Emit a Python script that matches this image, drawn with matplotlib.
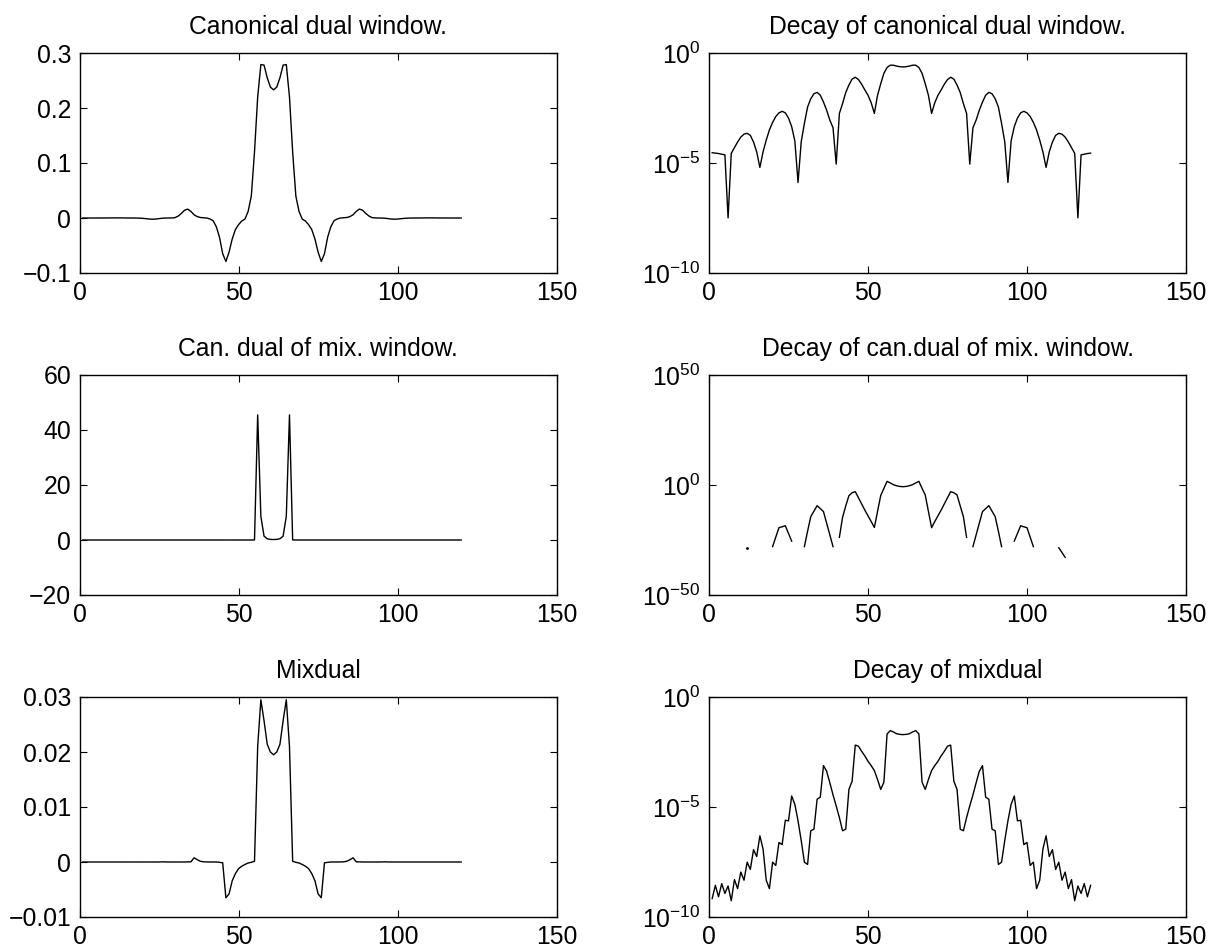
import numpy as np
import matplotlib
matplotlib.use('Agg')
import matplotlib.pyplot as plt
from matplotlib.ticker import FuncFormatter, LogFormatterMathtext, NullLocator

plt.rcParams['font.family'] = ['Liberation Sans', 'DejaVu Sans']
plt.rcParams['mathtext.fontset'] = 'custom'
plt.rcParams['mathtext.rm'] = 'Liberation Sans'
plt.rcParams['mathtext.it'] = 'Liberation Sans:italic'

# sample index 1..120
n = np.arange(1, 121)

g_can = [
    -2.95e-5, -2.8e-5, -2.7e-5, -2.5e-5, -2.35e-5, 3.2e-8, 2.75e-5, 5.0e-5, 9.0e-5, 1.5e-4,
    2.05e-4, 2.24e-4, 1.8e-4, 9.0e-5, 3.2e-5, -6.3e-6, -3.2e-5, -1.1e-4, -3.2e-4, -7.0e-4,
    -1.3e-3, -1.9e-3, -2.24e-3, -1.9e-3, -1.1e-3, -4.5e-4, -1.0e-4, 1.3e-6, 9.3e-5, 6.3e-4,
    3.5e-3, 8.3e-3, 1.41e-2, 1.62e-2, 1.2e-2, 5.9e-3, 2.5e-3, 8.9e-4, 4.0e-4, -8.9e-6,
    -1.8e-3, -5.0e-3, -1.6e-2, -3.5e-2, -6.5e-2, -7.9e-2, -6.2e-2, -3.8e-2, -2.1e-2, -1.2e-2,
    -5.5e-3, -1.8e-3, 1.2e-2, 4.0e-2, 0.12, 0.22, 0.279, 0.278, 0.255, 0.238,
    0.233, 0.238, 0.255, 0.278, 0.279, 0.22, 0.12, 4.0e-2, 1.2e-2, -1.8e-3,
    -5.5e-3, -1.2e-2, -2.1e-2, -3.8e-2, -6.2e-2, -7.9e-2, -6.5e-2, -3.5e-2, -1.6e-2, -5.0e-3,
    -1.8e-3, -8.9e-6, 4.0e-4, 8.9e-4, 2.5e-3, 5.9e-3, 1.2e-2, 1.62e-2, 1.41e-2, 8.3e-3,
    3.5e-3, 6.3e-4, 9.3e-5, 1.3e-6, -1.0e-4, -4.5e-4, -1.1e-3, -1.9e-3, -2.24e-3, -1.9e-3,
    -1.3e-3, -7.0e-4, -3.2e-4, -1.1e-4, -3.2e-5, -6.3e-6, 3.2e-5, 9.0e-5, 1.8e-4, 2.24e-4,
    2.05e-4, 1.5e-4, 9.0e-5, 5.0e-5, 2.75e-5, 3.2e-8, -2.35e-5, -2.5e-5, -2.7e-5, -2.8e-5,
]

# canonical dual of the mixed window (exact zeros show as gaps on the log panel)
g_mix = [
    0, 0, 0, 0, 0, 0, 0, 0, 0, 0,
    0, 3e-29, 0, 0, 0, 0, 0, 0, 0, 1e-28,
    2e-24, 4e-20, 1e-19, 3e-19, 1e-22, 3e-26, 0, 0, 0, 1e-28,
    1e-21, 4e-15, 1.3e-12, 4e-10, 1.8e-11, 8e-13, 4e-18, 2e-23, 1e-28, 0,
    1.6e-24, 2e-15, 3e-10, 1.4e-5, 3e-4, 9.3e-4, 1.6e-6, 2.5e-9, 4e-12, 1e-14,
    2.5e-17, 5e-20, 1e-12, 1.6e-5, 3e-2, 45.5, 8.6, 1.4, 0.45, 0.22,
    0.17, 0.22, 0.45, 1.4, 8.6, 45.5, 3e-2, 3e-5, 1e-12, 4e-20,
    2.5e-17, 1e-14, 4e-12, 2.5e-9, 1.6e-6, 9.3e-4, 3e-4, 3e-5, 3e-10, 4e-15,
    1.6e-24, 0, 1e-28, 2e-23, 4e-18, 8e-13, 1.8e-11, 4e-10, 1.3e-12, 4e-15,
    1e-21, 1e-28, 0, 0, 0, 3e-26, 1e-22, 3e-19, 1e-19, 4e-20,
    2e-24, 1e-28, 0, 0, 0, 0, 0, 0, 0, 3e-29,
    2e-31, 1.3e-33, 0, 0, 0, 0, 0, 0, 0, 0,
]

# mixdual
g_mixdual = [
    6.9e-10, 2.75e-9, 8.3e-10, 3.3e-9, 1.18e-9, 2.57e-9, 5.5e-10, 5.0e-9, 1.95e-9, 1.1e-8,
    4.7e-9, 3.1e-8, 1.45e-8, 1.15e-7, 5.6e-8, 4.9e-7, 1.23e-7, 4.7e-9, 1.95e-9, 3.1e-8,
    2.2e-8, 2.45e-7, 1.95e-7, 2.5e-6, 2.34e-6, 3.16e-5, 1.32e-5, 2.34e-6, 2.95e-7, 3.1e-8,
    2.45e-8, 8.3e-7, 9.8e-7, 2.24e-5, 2.82e-5, 7.6e-4, 4.2e-4, 1.26e-4, 3.55e-5, 1.12e-5,
    3.3e-6, 8.3e-7, -9.8e-7, -6.3e-5, -1.48e-4, -6.5e-3, -5.8e-3, -3.4e-3, -2.1e-3, -1.2e-3,
    -7.6e-4, -4.5e-4, -1.78e-4, -6.3e-5, 1.35e-4, 0.021, 0.0295, 0.0257, 0.0214, 0.0200,
    0.0195, 0.0200, 0.0214, 0.0257, 0.0295, 0.021, 1.35e-4, -6.3e-5, -1.78e-4, -4.5e-4,
    -7.6e-4, -1.2e-3, -2.1e-3, -3.4e-3, -5.8e-3, -6.5e-3, -1.48e-4, -6.3e-5, -9.8e-7, 8.3e-7,
    3.3e-6, 1.12e-5, 3.55e-5, 1.26e-4, 4.2e-4, 7.6e-4, 2.82e-5, 2.24e-5, 9.8e-7, 8.3e-7,
    2.45e-8, 3.1e-8, 2.95e-7, 2.34e-6, 1.32e-5, 3.16e-5, 2.34e-6, 2.5e-6, 1.95e-7, 2.45e-7,
    2.2e-8, 3.1e-8, 1.95e-9, 4.7e-9, 1.23e-7, 4.9e-7, 5.6e-8, 1.15e-7, 1.45e-8, 3.1e-8,
    4.7e-9, 1.1e-8, 1.95e-9, 5.0e-9, 5.5e-10, 2.57e-9, 1.18e-9, 3.3e-9, 8.3e-10, 2.75e-9,
]

titles = ['Canonical dual window.', 'Decay of canonical dual window.',
          'Can. dual of mix. window.', 'Decay of can.dual of mix. window.',
          'Mixdual', 'Decay of mixdual']
lin_yticks = [[-0.1, 0, 0.1, 0.2, 0.3], [-20, 0, 20, 40, 60], [-0.01, 0, 0.01, 0.02, 0.03]]
log_yticks = [[1e-10, 1e-5, 1e0], [1e-50, 1e0, 1e50], [1e-10, 1e-5, 1e0]]
xticks = [0, 50, 100, 150]

FS = 17.8
W, H = 1210, 950
fig = plt.figure(figsize=(W / 100, H / 100), dpi=100)

col_x = [79.6, 709.0]
col_w = 477.0
row_y = [53.0, 375.0, 697.0]
row_h = 220.0


def make_ax(r, c):
    ax = fig.add_axes([col_x[c] / W, 1 - (row_y[r] + row_h) / H, col_w / W, row_h / H])
    ax.set_xlim(0, 150)
    ax.set_xticks(xticks)
    ax.tick_params(direction='in', top=True, right=True, length=5, width=0.8,
                   labelsize=FS, pad=6)
    for s in ax.spines.values():
        s.set_linewidth(1.0)
    ax.set_title(titles[2 * r + c], fontsize=FS, pad=14)
    return ax


fmt = FuncFormatter(lambda v, p: ('%g' % v).replace('-', '\u2212'))
series = [np.array(g_can), np.array(g_mix), np.array(g_mixdual)]

for r, g in enumerate(series):
    ax = make_ax(r, 0)
    ax.plot(n, g, color='black', lw=1.0)
    ax.set_ylim(lin_yticks[r][0], lin_yticks[r][-1])
    ax.set_yticks(lin_yticks[r])
    ax.yaxis.set_major_formatter(fmt)

    ax = make_ax(r, 1)
    a = np.abs(g)
    ax.set_yscale('log', nonpositive='mask')
    ax.plot(n, np.where(a > 0, a, np.nan), color='black', lw=1.0)
    # single samples between zeros only show as a dot
    left = np.r_[0, a[:-1]]
    right = np.r_[a[1:], 0]
    iso = (a > 0) & (left == 0) & (right == 0)
    ax.plot(n[iso], a[iso], 'o', color='black', ms=1.0)
    ax.set_ylim(log_yticks[r][0], log_yticks[r][-1])
    ax.set_yticks(log_yticks[r])
    ax.yaxis.set_minor_locator(NullLocator())
    ax.yaxis.set_major_formatter(LogFormatterMathtext())

fig.savefig('out.png', dpi=100)
